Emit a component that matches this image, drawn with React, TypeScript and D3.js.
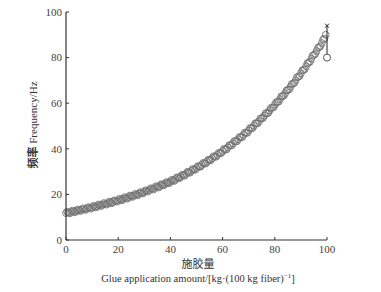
import React from "react";
import * as d3 from "d3";

const glueAmount: number[] = Array.from({ length: 100 }, (_, i) => i);
const frequency: number[] = [
  11.8, 12.0, 12.3, 12.5, 12.8, 13.0, 13.3, 13.5, 13.8, 14.1,
  14.3, 14.6, 14.9, 15.2, 15.5, 15.8, 16.1, 16.4, 16.7, 17.1,
  17.4, 17.7, 18.1, 18.4, 18.8, 19.2, 19.5, 19.9, 20.3, 20.7,
  21.1, 21.5, 22.0, 22.4, 22.8, 23.3, 23.7, 24.2, 24.7, 25.1,
  25.6, 26.1, 26.7, 27.3, 27.8, 28.4, 29.0, 29.7, 30.3, 30.9,
  31.6, 32.2, 32.9, 33.6, 34.3, 35.1, 35.8, 36.6, 37.3, 38.1,
  39.0, 39.8, 40.6, 41.5, 42.4, 43.3, 44.2, 45.1, 46.1, 47.0,
  48.0, 49.1, 50.1, 51.2, 52.2, 53.4, 54.5, 55.6, 56.8, 58.0,
  59.3, 60.5, 61.8, 63.1, 64.4, 65.8, 67.2, 68.6, 70.1, 71.6,
  73.1, 74.6, 76.2, 77.8, 79.5, 81.2, 82.9, 84.6, 86.4, 88.3,
];
const glueAmountHalf: number[] = Array.from({ length: 100 }, (_, i) => i + 0.5);
const frequencyHalf: number[] = [
  12.4, 11.7, 12.9, 12.2, 13.4, 12.7, 13.9, 13.2, 14.4, 13.7,
  15.0, 14.3, 15.6, 14.9, 16.2, 15.5, 16.8, 16.1, 17.4, 16.8,
  18.1, 17.4, 18.8, 18.1, 19.5, 18.9, 20.2, 19.6, 21.0, 20.4,
  21.8, 21.3, 22.7, 22.1, 23.6, 23.0, 24.5, 24.0, 25.4, 24.9,
  26.4, 25.9, 27.5, 27.1, 28.6, 28.2, 29.9, 29.5, 31.1, 30.8,
  32.4, 32.1, 33.8, 33.5, 35.2, 35.0, 36.7, 36.5, 38.2, 38.1,
  39.9, 39.7, 41.6, 41.5, 43.4, 43.3, 45.2, 45.1, 47.1, 47.0,
  49.1, 49.1, 51.2, 51.2, 53.3, 53.5, 55.6, 55.7, 57.9, 58.2,
  60.4, 60.7, 63.0, 63.3, 65.6, 66.0, 68.4, 68.9, 71.4, 71.9,
  74.4, 74.9, 77.5, 78.2, 80.9, 81.6, 84.3, 85.0, 87.9, 90.0,
];
const endX = 100;
const endTop = 94;
const endValue = 80;

const xTicks = [0, 20, 40, 60, 80, 100];
const yTicks = [0, 20, 40, 60, 80, 100];

const serif = "'Liberation Serif', 'DejaVu Serif', serif";
const cjk = "'Noto Sans CJK SC', sans-serif";

export default function App() {
  const x = d3.scaleLinear().domain([0, 100]).range([66, 327]);
  const y = d3.scaleLinear().domain([0, 100]).range([240, 12]);
  const axisColor = "#333";
  const markColor = "#707070";
  return (
    <svg
      width={381}
      height={292}
      style={{ position: "absolute", left: 0, top: 0, background: "#fff" }}
    >
      {/* points */}
      <g fill="none" stroke={markColor} strokeWidth={0.9}>
        {glueAmount.map((g, i) => (
          <circle key={"a" + i} cx={x(g)} cy={y(frequency[i])} r={3.4} />
        ))}
        {glueAmountHalf.map((g, i) => (
          <circle key={"b" + i} cx={x(g)} cy={y(frequencyHalf[i])} r={3.4} />
        ))}
      </g>
      <line x1={x(endX)} x2={x(endX)} y1={y(endTop)} y2={y(endValue)} stroke="#222" strokeWidth={1} />
      <path
        d={`M${x(endX) - 2},${y(endTop) - 2}L${x(endX) + 2},${y(endTop) + 2}M${x(endX) + 2},${y(endTop) - 2}L${x(endX) - 2},${y(endTop) + 2}`}
        stroke="#222"
        strokeWidth={1}
      />
      <circle cx={x(endX)} cy={y(endValue)} r={3.5} fill="#fff" stroke="#555" strokeWidth={1} />

      {/* axes */}
      <line x1={x(0)} x2={x(0)} y1={y(100)} y2={y(0)} stroke={axisColor} strokeWidth={1.2} />
      <line x1={x(0)} x2={x(100)} y1={y(0)} y2={y(0)} stroke={axisColor} strokeWidth={1.2} />
      {yTicks.map((t) => (
        <g key={"y" + t}>
          <line x1={x(0)} x2={x(0) + 3} y1={y(t)} y2={y(t)} stroke={axisColor} />
          <text
            x={x(0) - 4}
            y={y(t)}
            dy="0.35em"
            textAnchor="end"
            fontFamily={serif}
            fontSize={11}
            fill="#444"
          >
            {t}
          </text>
        </g>
      ))}
      {xTicks.map((t) => (
        <g key={"x" + t}>
          <line x1={x(t)} x2={x(t)} y1={y(0)} y2={y(0) - 3} stroke={axisColor} />
          <text
            x={x(t)}
            y={y(0) + 13}
            textAnchor="middle"
            fontFamily={serif}
            fontSize={11}
            fill="#444"
          >
            {t}
          </text>
        </g>
      ))}

      {/* titles */}
      <text
        transform="translate(37,125) rotate(-90)"
        textAnchor="middle"
        fontSize={11}
        fill="#333"
      >
        <tspan fontFamily={cjk} fontWeight="bold">频率</tspan>
        <tspan fontFamily={serif}> Frequency/Hz</tspan>
      </text>
      <text x={198} y={268} textAnchor="middle" fontFamily={cjk} fontSize={11} fill="#333">
        施胶量
      </text>
      <text x={198} y={282} textAnchor="middle" fontFamily={serif} fontSize={10.5} fill="#333">
        Glue application amount/[kg·(100 kg fiber)
        <tspan dy={-4} fontSize={7}>−1</tspan>
        <tspan dy={4}>]</tspan>
      </text>
    </svg>
  );
}
